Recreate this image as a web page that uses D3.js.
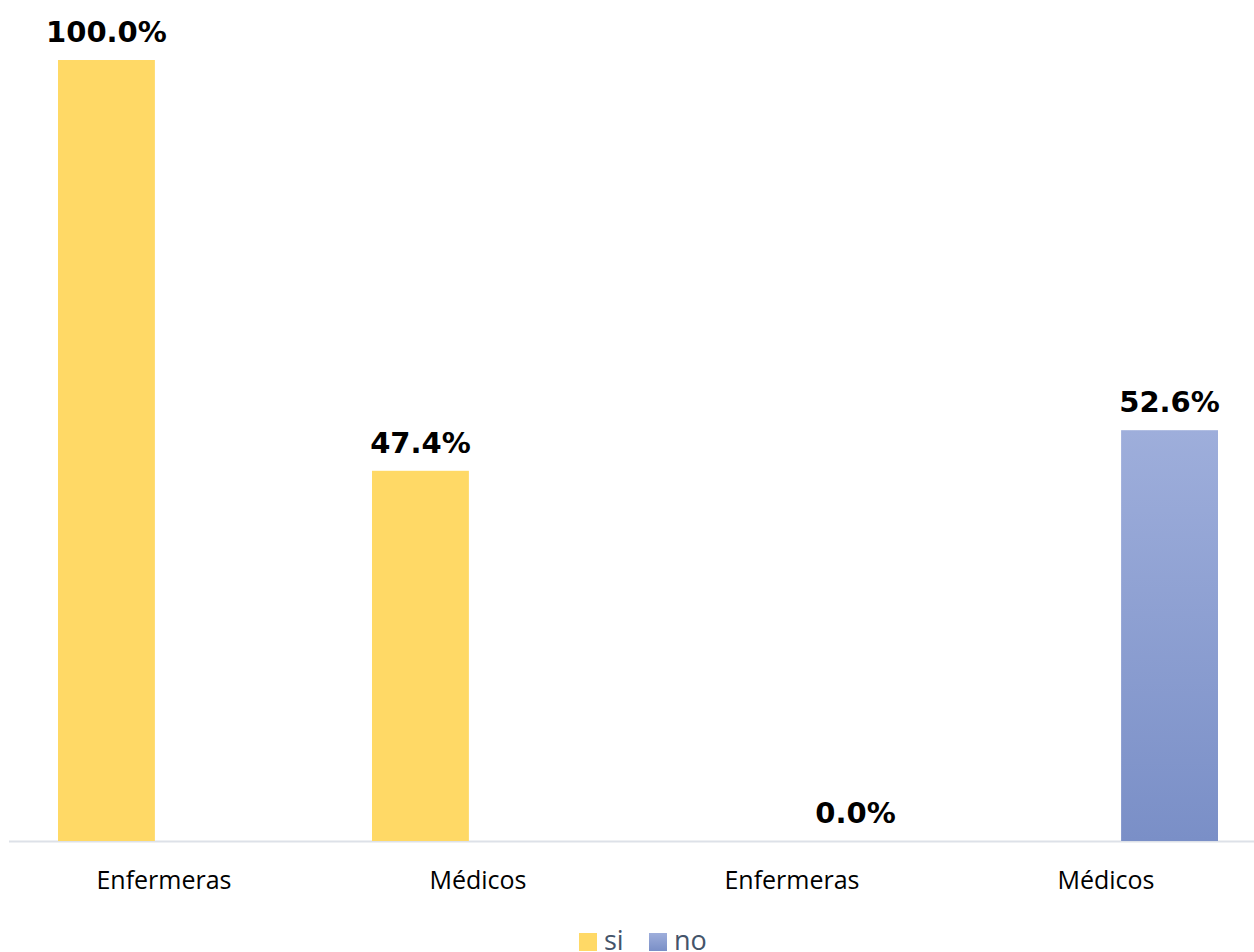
<!DOCTYPE html>
<html>
<head>
<meta charset="utf-8">
<script src="https://cdn.jsdelivr.net/npm/d3@7"></script>
<style>
  html, body { margin: 0; padding: 0; background: #ffffff; }
  svg { display: block; }
</style>
</head>
<body>
<div id="chart"></div>
<script>
// Category axis (two groups of staff, repeated per answer)
const categories = ["Enfermeras", "Médicos", "Enfermeras", "Médicos"];
// Series: answer "si" and answer "no" (null = no bar in that slot)
const seriesNames = ["si", "no"];
const siValues = [100.0, 47.4, null, null];
const noValues = [null, null, 0.0, 52.6];

const width = 1254, height = 952;
const baseline = 841;
const topY = 60;

const svg = d3.select("#chart").append("svg")
  .attr("width", width).attr("height", height);

const defs = svg.append("defs");
const grad = defs.append("linearGradient")
  .attr("id", "noFill").attr("x1", 0).attr("y1", 0).attr("x2", 0).attr("y2", 1);
grad.append("stop").attr("offset", "0%").attr("stop-color", "#9eaedb");
grad.append("stop").attr("offset", "100%").attr("stop-color", "#7a8fc7");

const colors = { si: "#ffd966", no: "url(#noFill)" };

const x0 = d3.scaleBand().domain(d3.range(categories.length)).range([10, 1266]).padding(0);
const x1 = d3.scaleBand().domain(seriesNames).range([48, 266]).paddingInner(0.2);
const y = d3.scaleLinear().domain([0, 100]).range([baseline, topY]);

const rows = categories.map((c, i) => ({ i, cat: c, si: siValues[i], no: noValues[i] }));

// Baseline axis
svg.append("line")
  .attr("x1", 9).attr("x2", width)
  .attr("y1", baseline + 0.5).attr("y2", baseline + 0.5)
  .attr("stroke", "#dde1e8").attr("stroke-width", 2);

const groups = svg.selectAll("g.cat").data(rows).join("g")
  .attr("class", "cat")
  .attr("transform", d => `translate(${x0(d.i)},0)`);

const cells = groups.selectAll("g.bar")
  .data(d => seriesNames.map(s => ({ s, v: d[s] })).filter(e => e.v !== null))
  .join("g").attr("class", "bar");

cells.append("rect")
  .attr("x", e => x1(e.s))
  .attr("width", x1.bandwidth())
  .attr("y", e => y(e.v))
  .attr("height", e => baseline - y(e.v))
  .attr("fill", e => colors[e.s]);

cells.append("text")
  .attr("x", e => x1(e.s) + x1.bandwidth() / 2)
  .attr("y", e => y(e.v) - 18)
  .attr("text-anchor", "middle")
  .attr("font-family", "DejaVu Sans, Verdana, sans-serif")
  .attr("font-weight", "bold")
  .attr("font-size", 29)
  .attr("fill", "#000")
  .text(e => e.v.toFixed(1) + "%");

// Category labels
svg.selectAll("text.cat").data(rows).join("text")
  .attr("class", "cat")
  .attr("x", d => x0(d.i) + x0.bandwidth() / 2 - 3)
  .attr("y", 889)
  .attr("text-anchor", "middle")
  .attr("font-family", "Open Sans, Lato, sans-serif")
  .attr("font-size", 25)
  .attr("fill", "#000")
  .text(d => d.cat);

// Legend
const legend = svg.append("g").attr("transform", "translate(579,933)");
const legendItems = [{ s: "si", x: 0 }, { s: "no", x: 70 }];
const li = legend.selectAll("g").data(legendItems).join("g")
  .attr("transform", d => `translate(${d.x},0)`);
li.append("rect").attr("width", 18).attr("height", 18).attr("fill", d => colors[d.s]);
li.append("text")
  .attr("x", 25).attr("y", 17)
  .attr("font-family", "Open Sans, Lato, sans-serif")
  .attr("font-size", 27)
  .attr("fill", "#44546a")
  .text(d => d.s);
</script>
</body>
</html>
